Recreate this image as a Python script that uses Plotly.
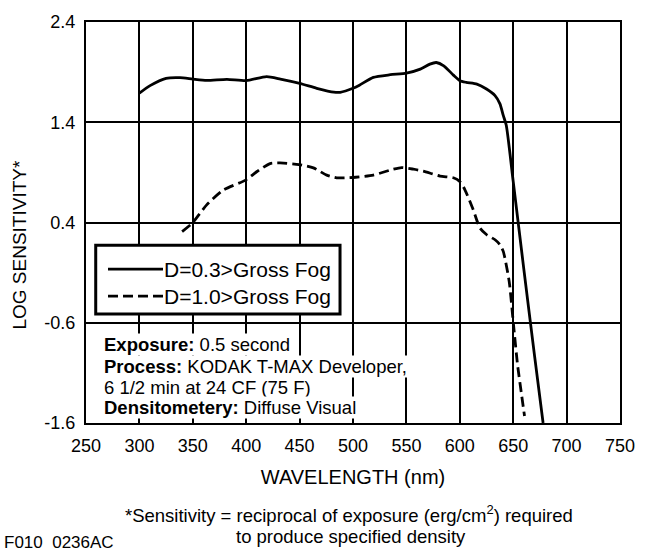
import plotly.graph_objects as go

# ---------------- data ----------------
wavelength_d03 = [300, 310, 325, 338, 350, 363, 382, 400, 419, 432, 450, 466, 482, 488,
                  500, 506, 519, 535, 550, 563, 572, 578, 585, 594, 600, 606, 616, 625,
                  633, 637.6, 640.7, 643.5, 650, 660, 670, 678]
log_sens_d03 = [1.69, 1.765, 1.838, 1.845, 1.831, 1.818, 1.828, 1.815, 1.855, 1.831, 1.788,
                1.739, 1.70, 1.699, 1.739, 1.77, 1.848, 1.874, 1.89, 1.93, 1.98, 1.996, 1.963,
                1.87, 1.815, 1.798, 1.781, 1.732, 1.666, 1.583, 1.468, 1.37, 0.81, -0.07,
                -0.93, -1.6]

wavelength_d10 = [340, 349.5, 363, 378.6, 399.5, 409.8, 422.3, 431.7, 449.5, 462.9, 475.4,
                  484.7, 500, 519, 537.7, 545.6, 556.5, 565.8, 581.5, 594, 600.2, 604.9,
                  612.6, 618.9, 625.2, 633, 637.6, 640.7, 646.2, 650.1, 654, 657.9, 660.6]
log_sens_d10 = [0.31, 0.393, 0.576, 0.724, 0.823, 0.906, 0.988, 0.995, 0.978, 0.945, 0.873,
                0.846, 0.849, 0.873, 0.932, 0.948, 0.932, 0.913, 0.863, 0.846, 0.806, 0.724,
                0.526, 0.344, 0.278, 0.228, 0.179, 0.112, -0.185, -0.6, -1.013, -1.323, -1.53]

series_names = ["D=0.3&gt;Gross Fog", "D=1.0&gt;Gross Fog"]

x_tick_vals = [250, 300, 350, 400, 450, 500, 550, 600, 650, 700, 750]
x_tick_text = ["250", "300", "350", "400", "450", "500", "550", "600", "650", "700", "750"]
y_tick_vals = [-1.6, -0.6, 0.4, 1.4, 2.4]
y_tick_text = ["-1.6", "-0.6", "0.4", "1.4", "2.4"]

note_lines = [
    "<b>Exposure:</b> 0.5 second",
    "<b>Process:</b> KODAK T-MAX Developer,",
    "6 1/2 min at 24 CF (75 F)",
    "<b>Densitometery:</b> Diffuse Visual",
]
footnote_lines = [
    "*Sensitivity = reciprocal of exposure (erg/cm<sup>2</sup>) required",
    "to produce specified density",
]
figure_id = "F010  0236AC"
x_title = "WAVELENGTH (nm)"
y_title = "LOG SENSITIVITY*"

FONT = "Liberation Sans, Arial, Helvetica, sans-serif"

# ---------------- figure ----------------
fig = go.Figure()
fig.add_trace(go.Scatter(
    x=wavelength_d03, y=log_sens_d03, mode="lines", name=series_names[0],
    line=dict(color="black", width=2.8, shape="spline", smoothing=0.6),
    showlegend=False))
fig.add_trace(go.Scatter(
    x=wavelength_d10, y=log_sens_d10, mode="lines", name=series_names[1],
    line=dict(color="black", width=2.8, dash="10px,5px", shape="spline", smoothing=0.6),
    showlegend=False))

axis_common = dict(
    showline=True, mirror=True, linecolor="black", linewidth=2,
    showgrid=True, gridcolor="black", gridwidth=2,
    zeroline=False, ticks="", tickfont=dict(family=FONT, size=18, color="black"),
)

fig.update_xaxes(range=[250, 750], tickmode="array", tickvals=x_tick_vals,
                 ticktext=x_tick_text, ticklabelstandoff=5,
                 title=dict(text=x_title, font=dict(family=FONT, size=20, color="black"),
                            standoff=15),
                 **axis_common)
fig.update_yaxes(range=[-1.6, 2.4], tickmode="array", tickvals=y_tick_vals,
                 ticktext=y_tick_text, ticklabelstandoff=5, **axis_common)

# legend box (drawn manually to match the original framed key)
shapes = [
    dict(type="rect", xref="paper", yref="paper", x0=0.0182, x1=0.4757, y0=0.272, y1=0.443,
         line=dict(color="black", width=3), fillcolor="white", layer="above"),
    dict(type="line", xref="paper", yref="paper", x0=0.0412, x1=0.1442, y0=0.3835, y1=0.3835,
         line=dict(color="black", width=2.8), layer="above"),
    dict(type="line", xref="paper", yref="paper", x0=0.0412, x1=0.1442, y0=0.3166, y1=0.3166,
         line=dict(color="black", width=2.8, dash="10px,5px"), layer="above"),
]

annotations = [
    dict(text=series_names[0], xref="paper", yref="paper", x=0.142, y=0.3835,
         xanchor="left", yanchor="middle", showarrow=False,
         font=dict(family=FONT, size=21, color="black")),
    dict(text=series_names[1], xref="paper", yref="paper", x=0.142, y=0.3166,
         xanchor="left", yanchor="middle", showarrow=False,
         font=dict(family=FONT, size=21, color="black")),
    dict(text=y_title, xref="paper", yref="paper", x=-0.1236, y=0.445, textangle=-90,
         xanchor="center", yanchor="middle", showarrow=False,
         font=dict(family=FONT, size=19, color="black")),
    dict(text=footnote_lines[0], xref="paper", yref="paper", x=0.4916, y=-0.2277,
         xanchor="center", yanchor="middle", showarrow=False,
         font=dict(family=FONT, size=18.5, color="black")),
    dict(text=footnote_lines[1], xref="paper", yref="paper", x=0.496, y=-0.2822,
         xanchor="center", yanchor="middle", showarrow=False,
         font=dict(family=FONT, size=18.5, color="black")),
    dict(text=figure_id, xref="paper", yref="paper", x=-0.157, y=-0.298,
         xanchor="left", yanchor="middle", showarrow=False,
         font=dict(family=FONT, size=17, color="black")),
]
note_y = [0.195, 0.1405, 0.0885, 0.039]
for txt, yy in zip(note_lines, note_y):
    annotations.append(dict(text=txt, xref="paper", yref="paper", x=0.032, y=yy,
                            xanchor="left", yanchor="middle", showarrow=False,
                            bgcolor="white", borderpad=0,
                            font=dict(family=FONT, size=18.5, color="black")))

fig.update_layout(
    width=652, height=550,
    margin=dict(l=86, r=32, t=19, b=127),
    paper_bgcolor="white", plot_bgcolor="white",
    font=dict(family=FONT, color="black"),
    showlegend=False,
    shapes=shapes, annotations=annotations,
)

fig.write_html("out.html", config={"displayModeBar": False},
               post_script="document.body.style.margin='0px';document.body.style.overflow='hidden';")
